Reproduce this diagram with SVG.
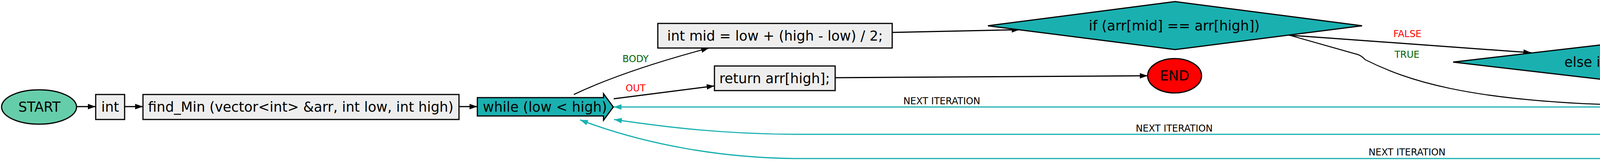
<svg xmlns="http://www.w3.org/2000/svg" width="5534" height="420" viewBox="0 0 5534 420">
<defs>
<style>
.box{fill:#eeeeee;stroke:#000;stroke-width:3}
.dia{fill:#1ab0b0;stroke:#000;stroke-width:3}
.t{font-family:"DejaVu Sans",sans-serif;font-size:35px;text-anchor:middle;fill:#000}
.l{font-family:"DejaVu Sans",sans-serif;font-size:24px;text-anchor:middle}
.g{fill:#006400}
.r{fill:#ff0000}
.k{fill:#000}
.e{fill:none;stroke:#000;stroke-width:3}
.e2{fill:none;stroke:#000;stroke-width:2.5}
.c{fill:none;stroke:#1ab0b0;stroke-width:3}
</style>
<marker id="ab" markerUnits="userSpaceOnUse" viewBox="0 0 20 14" markerWidth="20" markerHeight="14" refX="20" refY="7" orient="auto"><path d="M0,0 L20,7 L0,14 z" fill="#000"/></marker>
<marker id="ac" markerUnits="userSpaceOnUse" viewBox="0 0 20 14" markerWidth="20" markerHeight="14" refX="20" refY="7" orient="auto"><path d="M0,0 L20,7 L0,14 z" fill="#1ab0b0"/></marker>
</defs>
<rect width="5534" height="420" fill="#fff"/>
<g id="connectors">
<path class="e" d="M196,273 L245,273" marker-end="url(#ab)"/>
<path class="e" d="M319,273 L366,273" marker-end="url(#ab)"/>
<path class="e" d="M1175,273 L1222,273" marker-end="url(#ab)"/>
<path class="e2" d="M1469,242 Q1600,180 1815,123" marker-end="url(#ab)"/>
<path class="e" d="M1571,253 L1829,220" marker-end="url(#ab)"/>
<path class="e" d="M2284,83 L2610,76" marker-end="url(#ab)"/>
<path class="e" d="M2138,199 L2938,194" marker-end="url(#ab)"/>
<path class="e" d="M3300,90 L3920,135" marker-end="url(#ab)"/>
<path class="e2" d="M3300,90 L3477,140 Q3487,144 3495,153 C3600,205 3750,258 4150,269" marker-end="url(#ab)"/>
<path class="e" d="M4713,169 L4947,173" marker-end="url(#ab)"/>
<path class="e2" d="M4525,189 C4650,218 4860,225 4926,275" marker-end="url(#ab)"/>
<path class="e2" d="M5091,202 L5350,352" marker-end="url(#ab)"/>
<path class="c" d="M4150,274 L1571,274" marker-end="url(#ac)"/>
<path class="c" d="M4892,317 C4700,345 4450,344 4300,344 L2050,344 C1850,344 1700,325 1572,306" marker-end="url(#ac)"/>
<path class="c" d="M5298,394 C5200,405 5100,406 5000,406 L2050,406 C1850,406 1650,370 1485,307" marker-end="url(#ac)"/>
<text class="l g" x="1627" y="159">BODY</text>
<text class="l r" x="1627" y="234">OUT</text>
<text class="l k" x="2411" y="267">NEXT ITERATION</text>
<text class="l k" x="3006" y="337">NEXT ITERATION</text>
<text class="l k" x="3602" y="398">NEXT ITERATION</text>
<text class="l r" x="3603" y="95">FALSE</text>
<text class="l g" x="3602" y="148">TRUE</text>
<text class="l r" x="4832" y="163">FALSE</text>
<text class="l g" x="4832" y="230">TRUE</text>
<text class="l g" x="5241" y="267">TRUE</text>
</g>
<g id="start">
<ellipse cx="100" cy="274" rx="96" ry="44" fill="#66cdaa" stroke="#000" stroke-width="3"/>
<text class="t" x="101" y="286">START</text>
</g>
<g id="n_int">
<rect class="box" x="245" y="242" width="74" height="64"/>
<text class="t" x="282" y="286">int</text>
</g>
<g id="n_find">
<rect class="box" x="366" y="242" width="809" height="64"/>
<text class="t" x="770" y="286">find_Min (vector&lt;int&gt; &amp;arr, int low, int high)</text>
</g>
<g id="n_while">
<path class="dia" d="M1222,250 L1545,250 L1545,240 L1570,274 L1545,308 L1545,297 L1222,297 z"/>
<text class="t" x="1395" y="286">while (low &lt; high)</text>
</g>
<g id="n_mid">
<rect class="box" x="1684" y="60" width="600" height="63"/>
<text class="t" x="1984" y="104">int mid = low + (high - low) / 2;</text>
</g>
<g id="n_return">
<rect class="box" x="1829" y="169" width="309" height="63"/>
<text class="t" x="1983" y="213">return arr[high];</text>
</g>
<g id="n_end">
<ellipse cx="3007" cy="194" rx="69" ry="44" fill="#ff0000" stroke="#000" stroke-width="3"/>
<text class="t" x="3007" y="206">END</text>
</g>
<g id="n_if">
<path class="dia" d="M2529,66 L3008,4 L3487,66 L3008,127 z"/>
<text class="t" x="3006" y="78">if (arr[mid] == arr[high])</text>
</g>
<g id="n_elseif">
<path class="dia" d="M3720,159 L4245,98 L4770,159 L4245,220 z"/>
<text class="t" x="4250" y="171">else if (arr[mid] &gt; arr[high])</text>
</g>
<g id="n_else">
<path class="dia" style="stroke-width:2.5" d="M4947,175 L5038,113 L5130,175 L5038,237 z"/>
<text class="t" x="5038" y="186">else</text>
</g>
<g id="n_highdec">
<rect class="box" x="4150" y="242" width="203" height="63"/>
<text class="t" x="4251" y="286">high -= 1;</text>
</g>
<g id="n_low">
<rect class="box" x="4892" y="275" width="293" height="62"/>
<text class="t" x="5038" y="318">low = mid + 1;</text>
</g>
<g id="n_highmid">
<rect class="box" x="5298" y="353" width="230" height="63"/>
<text class="t" x="5413" y="397">high = mid;</text>
</g>
</svg>
